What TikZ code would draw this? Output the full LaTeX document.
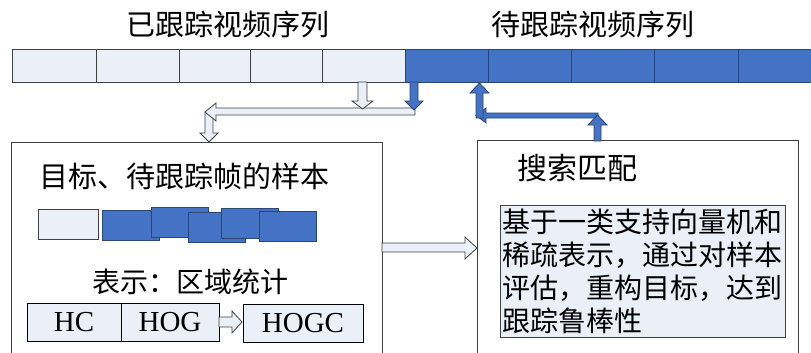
\documentclass[tikz,border=0pt]{standalone}
\usepackage{fontspec}
\setmainfont{Liberation Serif}
\newfontfamily\cjk{Noto Sans CJK SC}
\definecolor{lightc}{HTML}{EAEFF8}
\definecolor{bluec}{HTML}{4472C4}
\definecolor{blueb}{HTML}{2A4676}
\definecolor{grayb}{HTML}{404040}
\begin{document}
\begin{tikzpicture}[x=1pt,y=-1pt,
  lcell/.style={draw=grayb,fill=lightc,line width=1pt,inner sep=0pt,outer sep=0pt,anchor=north west,minimum height=32pt},
  bcell/.style={draw=blueb,fill=bluec,line width=1pt,inner sep=0pt,outer sep=0pt,anchor=north west,minimum height=32pt},
  bigbox/.style={draw=grayb,line width=0.9pt,inner sep=0pt,outer sep=0pt,anchor=north west,minimum height=240pt},
  featbox/.style={draw=black,fill=lightc,line width=0.8pt,inner sep=0pt,outer sep=0pt,anchor=north west,minimum height=38pt,font=\fontsize{29}{29}\selectfont},
  samplel/.style={draw=grayb,fill=lightc,line width=0.8pt,inner sep=0pt,anchor=north west,minimum width=60pt,minimum height=30pt},
  sampleb/.style={draw=blueb,fill=bluec,line width=0.8pt,inner sep=0pt,anchor=north west,minimum width=57pt,minimum height=30pt},
  cjktitle/.style={font=\cjk\fontsize{29}{29}\selectfont,inner sep=0pt},
  harrow/.style={draw=grayb,fill=lightc,line width=0.8pt,line join=miter},
  barrow/.style={draw=blueb,fill=bluec,line width=0.8pt,line join=miter}]
\useasboundingbox (0,0) rectangle (811,353);
\fill[white] (0,0) rectangle (811,353);

% titles
\node[cjktitle] (tl) at (228,24) {已跟踪视频序列};
\node[cjktitle] (tr) at (593,24) {待跟踪视频序列};

% top bar
\node[lcell,minimum width=84pt] (c1) at (12,50) {};
\node[lcell,minimum width=83pt] (c2) at (96,50) {};
\node[lcell,minimum width=71pt] (c3) at (179,50) {};
\node[lcell,minimum width=72pt] (c4) at (250,50) {};
\node[lcell,minimum width=83pt] (c5) at (322,50) {};
\node[bcell,minimum width=83pt] (c6) at (405,50) {};
\node[bcell,minimum width=83pt] (c7) at (488,50) {};
\node[bcell,minimum width=83pt] (c8) at (571,50) {};
\node[bcell,minimum width=84pt] (c9) at (654,50) {};
\node[bcell,minimum width=84pt] (c10) at (738,50) {};

% big boxes
\node[bigbox,minimum width=371pt] (lb) at (11,142) {};
\node[bigbox,minimum width=321pt] (rb) at (477,140) {};

% left bent hollow arrow
\draw[harrow] (205,112)--(213,112)--(213,133)--(218,133)--(209,142)--(200,133)--(205,133)--cycle;
\draw[harrow] (415,108)--(216,108)--(216,103)--(205,112)--(216,121)--(216,115)--(415,115)--cycle;
\draw[harrow] (358,82)--(367,82)--(367,101)--(373,101)--(362.5,109)--(352,101)--(358,101)--cycle;
\draw[barrow] (410,82)--(418,82)--(418,101)--(423,101)--(414,110)--(405,101)--(410,101)--cycle;

% right bent blue arrow
\draw[barrow] (598,113)--(486,113)--(486,108)--(476,115.5)--(486,123)--(486,118)--(598,118)--cycle;
\draw[barrow] (476,118)--(476,93)--(470,93)--(479.5,83)--(489,93)--(483,93)--(483,118)--cycle;
\draw[barrow] (594,141)--(594,125)--(588,125)--(597.5,115)--(607,125)--(601,125)--(601,141)--cycle;

% arrow between boxes
\draw[harrow] (382,243)--(465,243)--(465,237)--(477,248)--(465,259)--(465,252)--(382,252)--cycle;

% left box content
\node[cjktitle] (lt) at (184,176) {目标、待跟踪帧的样本};
\node[samplel] (s0) at (38,209) {};
\node[sampleb] (s1) at (102,210) {};
\node[sampleb] (s2) at (151,207) {};
\node[sampleb] (s3) at (188,212) {};
\node[sampleb] (s4) at (221,208) {};
\node[sampleb] (s5) at (259,211) {};
\node[cjktitle,font=\cjk\fontsize{28}{28}\selectfont] (rep) at (190,282) {表示：区域统计};
\node[featbox,minimum width=94pt] (hc) at (27,303) {HC};
\node[featbox,minimum width=98pt] (hog) at (121,303) {HOG};
\node[featbox,minimum width=120pt] (hogc) at (243,304) {HOGC};
\draw[harrow] (hog.east |- 0,317)--(232,317)--(232,311)--(242,322)--(232,333)--(232,327)--(hog.east |- 0,327)--cycle;

% right box content
\node[cjktitle,font=\cjk\fontsize{30}{30}\selectfont] (rt) at (577,168) {搜索匹配};
\node[draw=grayb,fill=lightc,line width=0.8pt,anchor=north west,minimum width=285pt,minimum height=132pt,
      text width=281pt,inner sep=2pt,align=left,font=\cjk\fontsize{28}{32.7}\selectfont] (desc) at (500,205)
  {基于一类支持向量机和\\稀疏表示，通过对样本\\评估，重构目标，达到\\跟踪鲁棒性};
\end{tikzpicture}
\end{document}
